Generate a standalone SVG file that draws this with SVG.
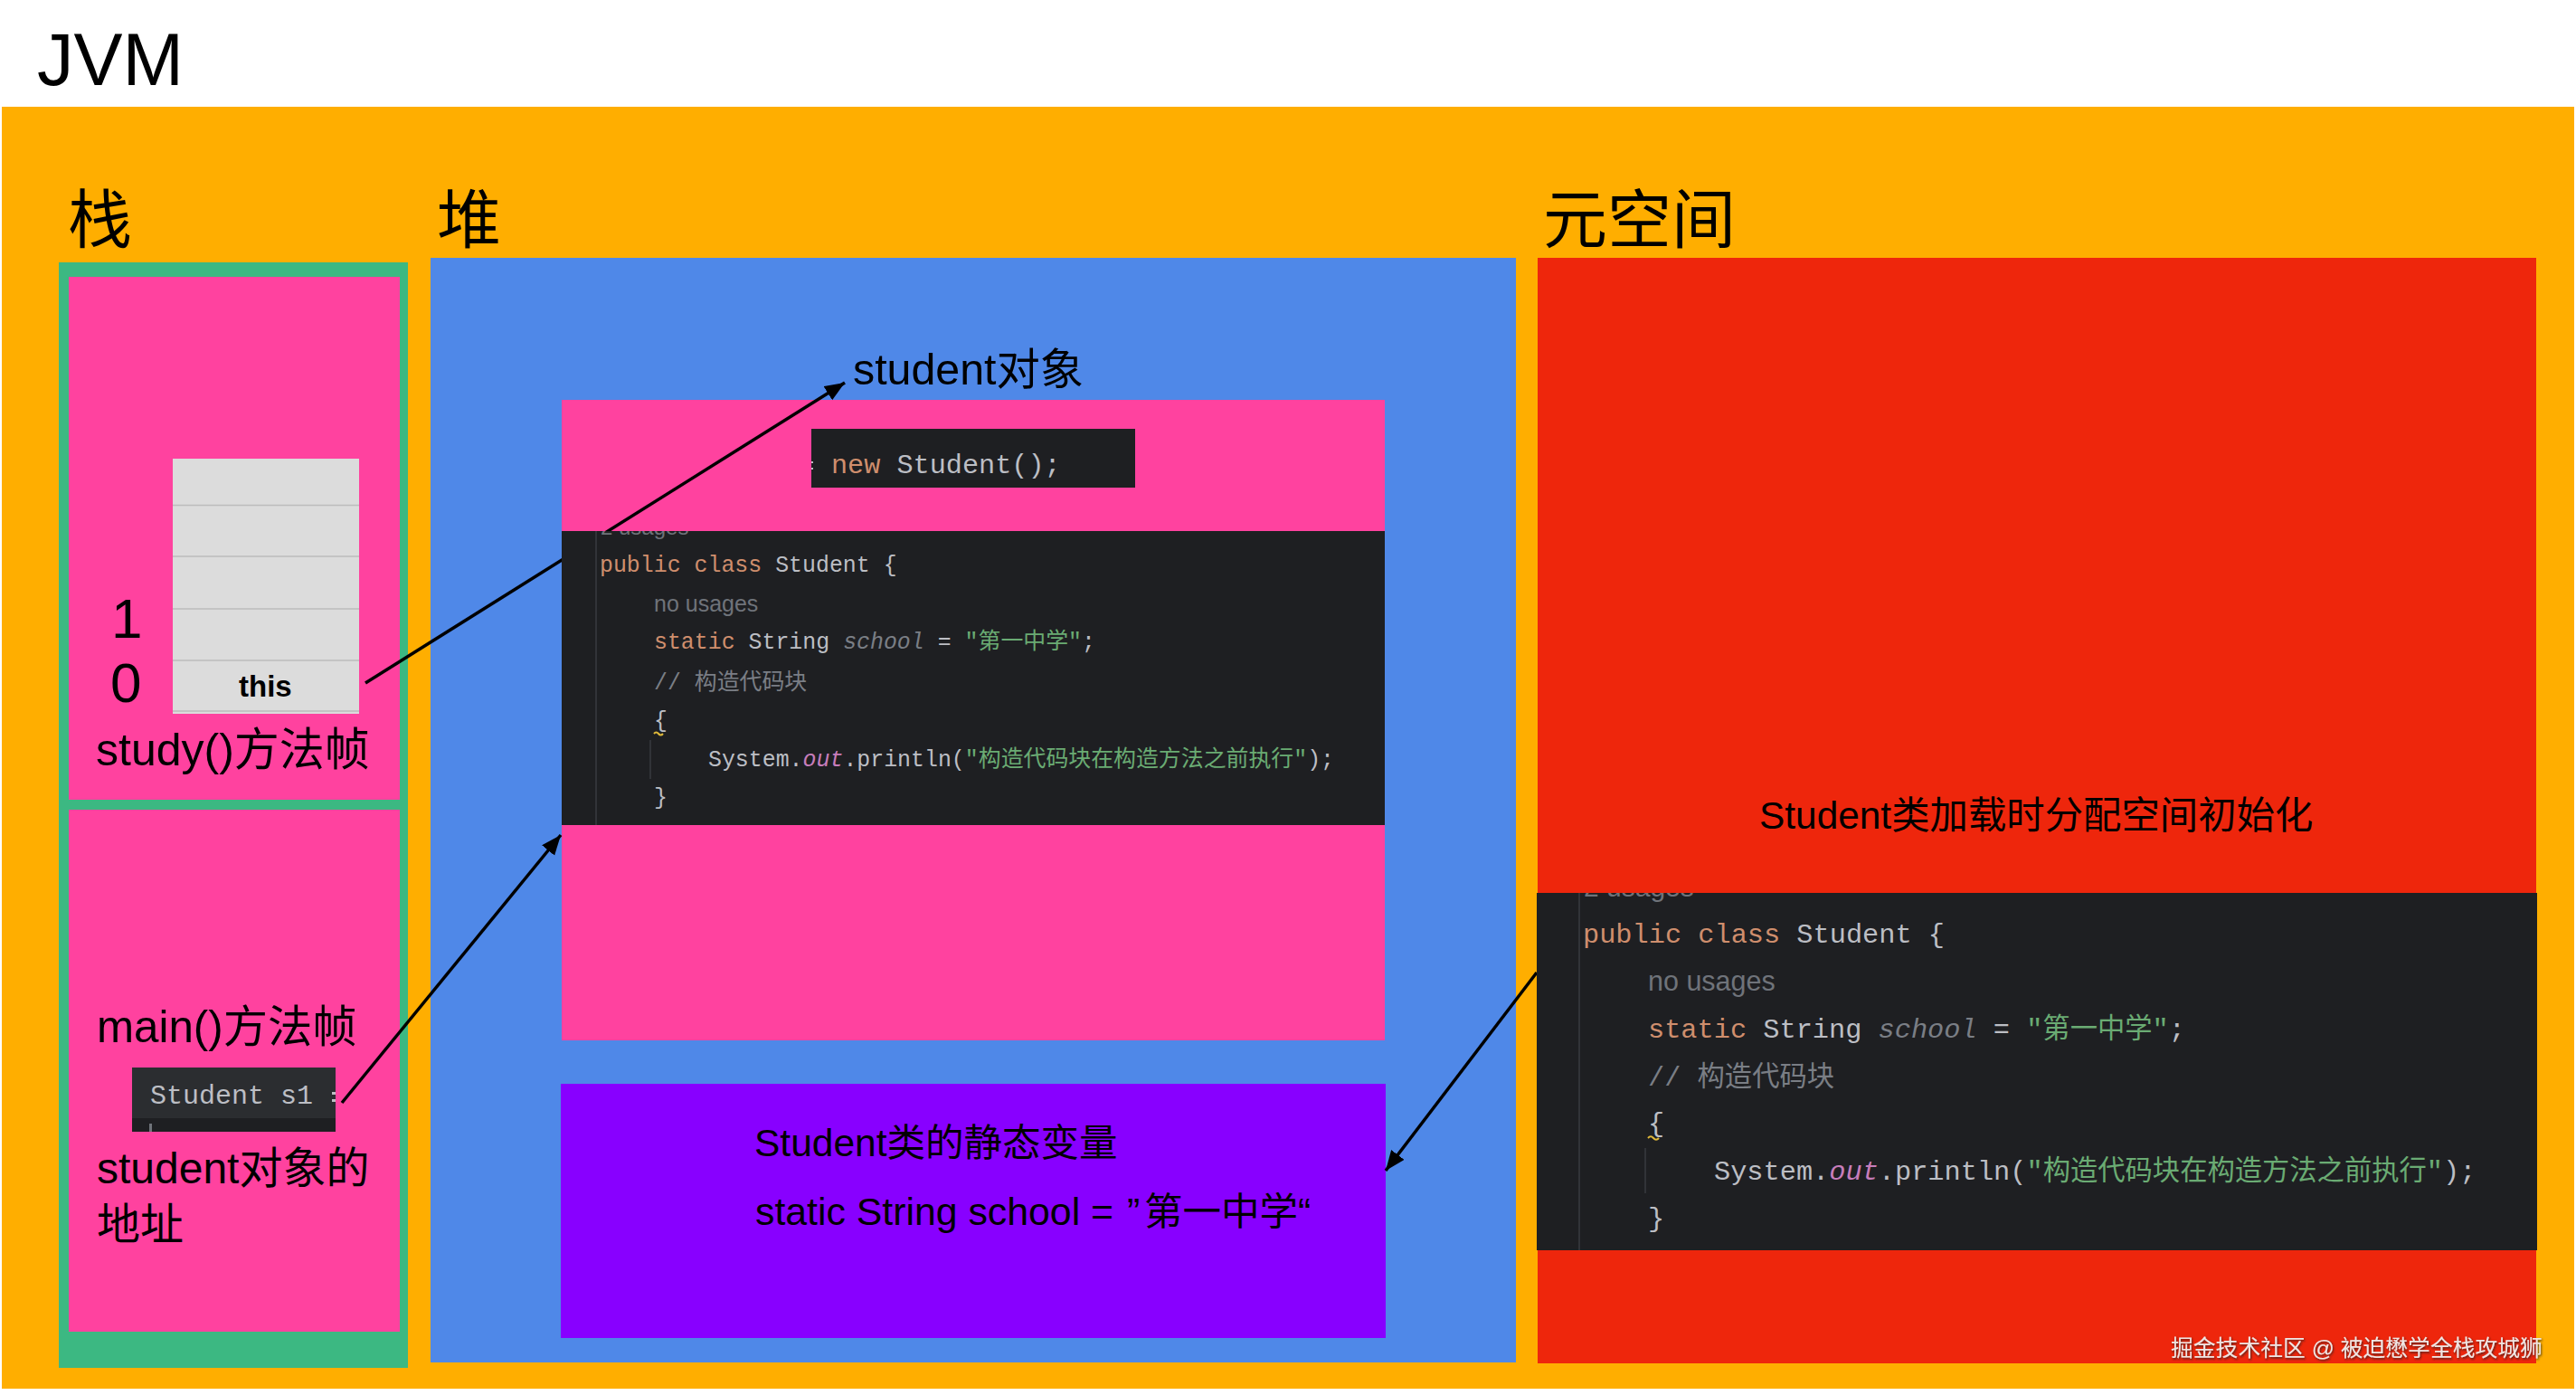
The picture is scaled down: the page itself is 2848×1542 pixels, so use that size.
<svg xmlns="http://www.w3.org/2000/svg" width="2848" height="1542" viewBox="0 0 2848 1542">
<style>
.s{font-family:"Liberation Sans","Noto Sans CJK SC",sans-serif;fill:#000}
.c{font-family:"Liberation Mono","Noto Sans CJK SC",monospace;fill:#bcbec4;white-space:pre}
.k{fill:#cf8e6d}.g{fill:#6aab73}.f{fill:#7a7e85;font-style:italic}.o{fill:#c77dbb;font-style:italic}.n{fill:#7a7e85}
.u{font-family:"Liberation Sans","Noto Sans CJK SC",sans-serif;fill:#6f737a}
.gd{stroke:#393b40;stroke-width:1.5;fill:none}
.a{stroke:#000;stroke-width:3.5;fill:none}
.row{stroke:#bcbcbc;stroke-width:1.5}
</style>
<defs>
<marker id="ah" markerUnits="userSpaceOnUse" markerWidth="24" markerHeight="22" refX="22" refY="9" orient="auto"><path d="M0 0L22 9L0 18Z" fill="#000"/></marker>
<clipPath id="c1"><rect x="621" y="587" width="910" height="325"/></clipPath>
<clipPath id="c2"><rect x="1699" y="987" width="1106" height="395"/></clipPath>
<filter id="sh" x="-5%" y="-20%" width="110%" height="150%"><feDropShadow dx="1" dy="1.500" stdDeviation="0.800" flood-color="#222" flood-opacity="0.800"/></filter>
</defs>
<rect width="2848" height="1542" fill="#fff"/>
<text class="s" x="41" y="94" font-size="81">JVM</text>
<g id="jvm"><rect x="2" y="118" width="2844" height="1417" fill="#ffae00"/>
<text class="s" x="75" y="268" font-size="71">栈</text>
<text class="s" x="483" y="268" font-size="71">堆</text>
<text class="s" x="1706" y="268" font-size="71">元空间</text></g>
<g id="stack"><rect x="65" y="290" width="386" height="1222" fill="#3cb882"/></g>
<g id="study-frame"><rect x="76" y="306" width="366" height="578" fill="#ff429f"/>
<rect x="191" y="507" width="206" height="282" fill="#dcdcdc"/>
<path class="row" d="M191 558.500H397M191 615H397M191 673H397M191 730H397M191 786H397"/>
<text class="s" x="264" y="770" font-size="33" font-weight="bold">this</text>
<text class="s" x="123" y="705" font-size="62">1</text>
<text class="s" x="122" y="776" font-size="62">0</text>
<text class="s" x="106" y="846" font-size="50">study()方法帧</text></g>
<g id="main-frame"><rect x="76" y="895" width="366" height="577" fill="#ff429f"/>
<text class="s" x="107" y="1152" font-size="49.300">main()方法帧</text>
<rect x="146" y="1180" width="225" height="71" fill="#1e1f22"/><rect x="146" y="1180" width="225" height="56" fill="#2b2d30"/>
<rect x="165" y="1242" width="3" height="9" fill="#6f737a"/>
<text class="c" x="166" y="1220" font-size="30">Student s1</text>
<rect x="367" y="1207" width="4" height="3" fill="#bcbec4"/><rect x="367" y="1215" width="4" height="3" fill="#bcbec4"/>
<text class="s" x="107" y="1308" font-size="48">student对象的</text>
<text class="s" x="107" y="1370" font-size="48">地址</text></g>
<g id="heap"><rect x="476" y="285" width="1200" height="1221" fill="#4f88e8"/>
<text class="s" x="943" y="425" font-size="48.300">student对象</text></g>
<g id="object"><rect x="621" y="442" width="910" height="708" fill="#ff429f"/></g>
<g id="statics"><rect x="620" y="1198" width="912" height="281" fill="#8800ff"/>
<text class="s" x="834" y="1278" font-size="42.500">Student类的静态变量</text>
<text class="s" x="835" y="1354" font-size="42.800">static String school = <tspan x="1246">”</tspan><tspan x="1265" font-size="42.500">第一中学“</tspan></text></g>
<g id="metaspace"><rect x="1700" y="285" width="1104" height="1222" fill="#ee260c"/>
<text class="s" x="1945" y="916" font-size="42.400">Student类加载时分配空间初始化</text></g>
<g id="connectors">
<path class="a" d="M404 755L934 423" marker-end="url(#ah)"/>
<path class="a" d="M378 1219L620 923" marker-end="url(#ah)"/>
<path class="a" d="M1699 1075L1532 1294" marker-end="url(#ah)"/>
</g>
<g id="new-code"><rect x="897" y="474" width="358" height="65" fill="#1e1f22"/>
<text class="c" x="919" y="523" font-size="30.200"><tspan class="k">new</tspan> Student();</text>
<rect x="897" y="510" width="2" height="2" fill="#bcbec4"/><rect x="897" y="517" width="2" height="2" fill="#bcbec4"/></g>
<g id="heap-code"><rect x="621" y="587" width="910" height="325" fill="#1e1f22"/>
<path class="gd" d="M659 587V912M719 818V861"/>
<g clip-path="url(#c1)"><text class="u" x="664" y="591" font-size="24">2 usages</text></g>
<text class="c" x="663" y="632" font-size="24.900"><tspan class="k">public class</tspan> Student {</text>
<text class="u" x="723" y="676" font-size="25">no usages</text>
<text class="c" x="723" y="717" font-size="24.900"><tspan class="k">static</tspan> String <tspan class="f">school</tspan> = <tspan class="g">"第一中学"</tspan>;</text>
<text class="c n" x="723" y="762" font-size="24.900">// 构造代码块</text>
<text class="c" x="723" y="804" font-size="24.900">{</text>
<path d="M723 811q2.500-3 5 0t5 0" stroke="#e0b93a" stroke-width="2" fill="none"/>
<text class="c" x="783" y="847" font-size="24.900">System.<tspan class="o">out</tspan>.println(<tspan class="g">"构造代码块在构造方法之前执行"</tspan>);</text>
<text class="c" x="723" y="889" font-size="24.900">}</text></g>
<g id="meta-code"><rect x="1699" y="987" width="1106" height="395" fill="#1e1f22"/>
<path class="gd" d="M1746 987V1382M1819 1269V1319"/>
<g clip-path="url(#c2)"><text class="u" x="1751" y="991" font-size="30">2 usages</text></g>
<text class="c" x="1750" y="1042" font-size="30.300"><tspan class="k">public class</tspan> Student {</text>
<text class="u" x="1822" y="1095" font-size="30.500">no usages</text>
<text class="c" x="1822" y="1147" font-size="30.300"><tspan class="k">static</tspan> String <tspan class="f">school</tspan> = <tspan class="g">"第一中学"</tspan>;</text>
<text class="c n" x="1822" y="1200" font-size="30.300">// 构造代码块</text>
<text class="c" x="1822" y="1251" font-size="30.300">{</text>
<path d="M1822 1258q3-3.500 6 0t6 0" stroke="#e0b93a" stroke-width="2" fill="none"/>
<text class="c" x="1895" y="1304" font-size="30.300">System.<tspan class="o">out</tspan>.println(<tspan class="g">"构造代码块在构造方法之前执行"</tspan>);</text>
<text class="c" x="1822" y="1356" font-size="30.300">}</text></g>
<text id="watermark" x="2400" y="1499" font-size="24.800" fill="#efe6e4" filter="url(#sh)" font-family="'Liberation Sans','Noto Sans CJK SC',sans-serif">掘金技术社区 @ 被迫懋学全栈攻城狮</text>
</svg>
